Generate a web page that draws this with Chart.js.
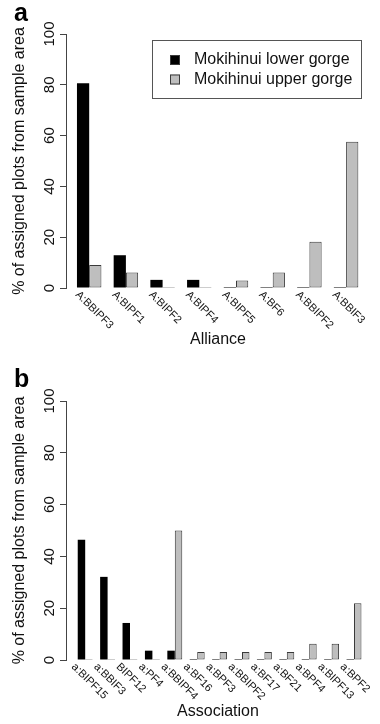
<!DOCTYPE html>
<html>
<head>
<meta charset="utf-8">
<script src="https://cdn.jsdelivr.net/npm/chart.js@4.4.1/dist/chart.umd.min.js"></script>
<style>
  html, body { margin: 0; padding: 0; background: #ffffff; }
  canvas { display: block; }
</style>
</head>
<body>
<canvas id="chartA" width="380" height="362"></canvas>
<canvas id="chartB" width="380" height="362"></canvas>
<script>
// ---- data ----
const seriesLabels = ['Mokihinui lower gorge', 'Mokihinui upper gorge'];
const allianceCats = ['A:BBIPF3', 'A:BIPF1', 'A:BIPF2', 'A:BIPF4', 'A:BIPF5', 'A:BF6', 'A:BBIPF2', 'A:BBIF3'];
const allianceLower = [80.6, 12.9, 3.2, 3.2, 0, 0, 0, 0];
const allianceUpper = [9.1, 6.1, 0, 0, 3.0, 6.1, 18.2, 57.6];
const associationCats = ['a:BIPF15', 'a:BBIF3', 'BIPF12', 'a:PF4', 'a:BBIPF4', 'a:BF16', 'a:BPF3', 'a:BBIPF2', 'a:BF17', 'a:BF21', 'a:BPF4', 'a:BIPF13', 'a:BPF2'];
const associationLower = [46.4, 32.1, 14.3, 3.6, 3.6, 0, 0, 0, 0, 0, 0, 0, 0];
const associationUpper = [0, 0, 0, 0, 50.0, 3.1, 3.1, 3.1, 3.1, 3.1, 6.3, 6.3, 21.9];
const yTicks = [0, 20, 40, 60, 80, 100];
const yTitle = '% of assigned plots from sample area';

const FONT = '"Liberation Sans", Arial, Helvetica, sans-serif';
const LOWER_COLOR = '#000000';
const UPPER_COLOR = '#bebebe';

function decoPlugin(opts) {
  return {
    id: 'deco',
    afterDraw(chart) {
      const ctx = chart.ctx;
      const xs = chart.scales.x, ys = chart.scales.y;
      const area = chart.chartArea;
      ctx.save();
      // y tick labels (rotated, parallel to axis)
      ctx.fillStyle = '#111';
      ctx.font = '15px ' + FONT;
      ctx.textAlign = 'center';
      ctx.textBaseline = 'alphabetic';
      ys.ticks.forEach(t => {
        const py = ys.getPixelForValue(t.value);
        ctx.save();
        ctx.translate(area.left - 12, py);
        ctx.rotate(-Math.PI / 2);
        ctx.fillText(String(t.value), 0, 0);
        ctx.restore();
      });
      // x category labels (rotated 45 deg clockwise)
      ctx.font = '11px ' + FONT;
      ctx.textAlign = 'left';
      ctx.textBaseline = 'middle';
      opts.cats.forEach((c, i) => {
        const px = xs.getPixelForValue(i);
        ctx.save();
        ctx.translate(px - 12, area.bottom + 5);
        ctx.rotate(Math.PI / 4);
        ctx.fillText(c, 0, 0);
        ctx.restore();
      });
      // panel letter
      ctx.font = 'bold 25px ' + FONT;
      ctx.textAlign = 'left';
      ctx.textBaseline = 'alphabetic';
      ctx.fillStyle = '#000';
      ctx.fillText(opts.letter, 14, opts.letterY);
      // legend
      if (opts.legend) {
        const L = opts.legend;
        ctx.strokeStyle = '#555';
        ctx.lineWidth = 1;
        ctx.strokeRect(L.x + 0.5, L.y + 0.5, L.w, L.h);
        ctx.font = '16px ' + FONT;
        ctx.textBaseline = 'middle';
        chart.data.datasets.forEach((ds, k) => {
          const cy = L.y + L.first + k * L.step;
          ctx.fillStyle = ds.backgroundColor;
          ctx.fillRect(L.sx, cy - 5, 10, 10);
          ctx.strokeStyle = '#3a3a3a';
          ctx.strokeRect(L.sx + 0.5, cy - 4.5, 9, 9);
          ctx.fillStyle = '#111';
          ctx.fillText(ds.label, L.tx, cy);
        });
      }
      ctx.restore();
    }
  };
}

function makeChart(id, cats, lower, upper, o) {
  const toPts = arr => arr.map((v, i) => ({ x: i, y: v }));
  return new Chart(document.getElementById(id), {
    type: 'bar',
    data: {
      datasets: [
        { label: seriesLabels[0], data: toPts(lower), backgroundColor: LOWER_COLOR, borderColor: '#000000',
          borderWidth: 0, borderSkipped: false, minBarLength: 1, categoryPercentage: 2 / 3, barPercentage: 1 },
        { label: seriesLabels[1], data: toPts(upper), backgroundColor: UPPER_COLOR, borderColor: '#3a3a3a',
          borderWidth: 1, borderSkipped: false, minBarLength: 1, categoryPercentage: 2 / 3, barPercentage: 1 }
      ]
    },
    options: {
      responsive: false,
      animation: false,
      devicePixelRatio: 1,
      layout: { padding: { top: o.top, right: 10, bottom: 0, left: 0 } },
      plugins: { legend: { display: false }, tooltip: { enabled: false }, title: { display: false } },
      scales: {
        x: {
          type: 'linear',
          offset: false,
          min: o.xMin,
          max: o.xMax,
          grid: { display: false },
          border: { display: false },
          ticks: { display: false, stepSize: 1, includeBounds: false },
          title: { display: true, text: o.xTitle, color: '#111', font: { family: FONT, size: 16 },
                   padding: { top: o.tPadTop, bottom: o.tPadBottom } }
        },
        y: {
          min: 0,
          max: 100,
          afterBuildTicks: s => { s.ticks = yTicks.map(v => ({ value: v })); },
          afterFit: s => { s.width = 66; },
          grid: { drawOnChartArea: false, drawTicks: true, tickLength: 6, color: '#444', tickWidth: 1 },
          border: { display: true, color: '#444', width: 1 },
          ticks: { display: false },
          title: { display: true, text: yTitle, color: '#111', font: { family: FONT, size: 16 },
                   padding: { top: 10, bottom: 0 } }
        }
      }
    },
    plugins: [decoPlugin({ cats: cats, letter: o.letter, letterY: o.letterY, legend: o.legend })]
  });
}

makeChart('chartA', allianceCats, allianceLower, allianceUpper, {
  top: 34, xMin: -0.632, xMax: 7.651, xTitle: 'Alliance', tPadTop: 34.4, tPadBottom: 12.4,
  letter: 'a', letterY: 21,
  legend: { x: 152, y: 40, w: 209, h: 58, sx: 170, tx: 194, first: 20, step: 19.5 }
});
makeChart('chartB', associationCats, associationLower, associationUpper, {
  top: 39, xMin: -0.857, xMax: 12.714, xTitle: 'Association', tPadTop: 34.4, tPadBottom: 2.4,
  letter: 'b', letterY: 25, legend: null
});
</script>
</body>
</html>
